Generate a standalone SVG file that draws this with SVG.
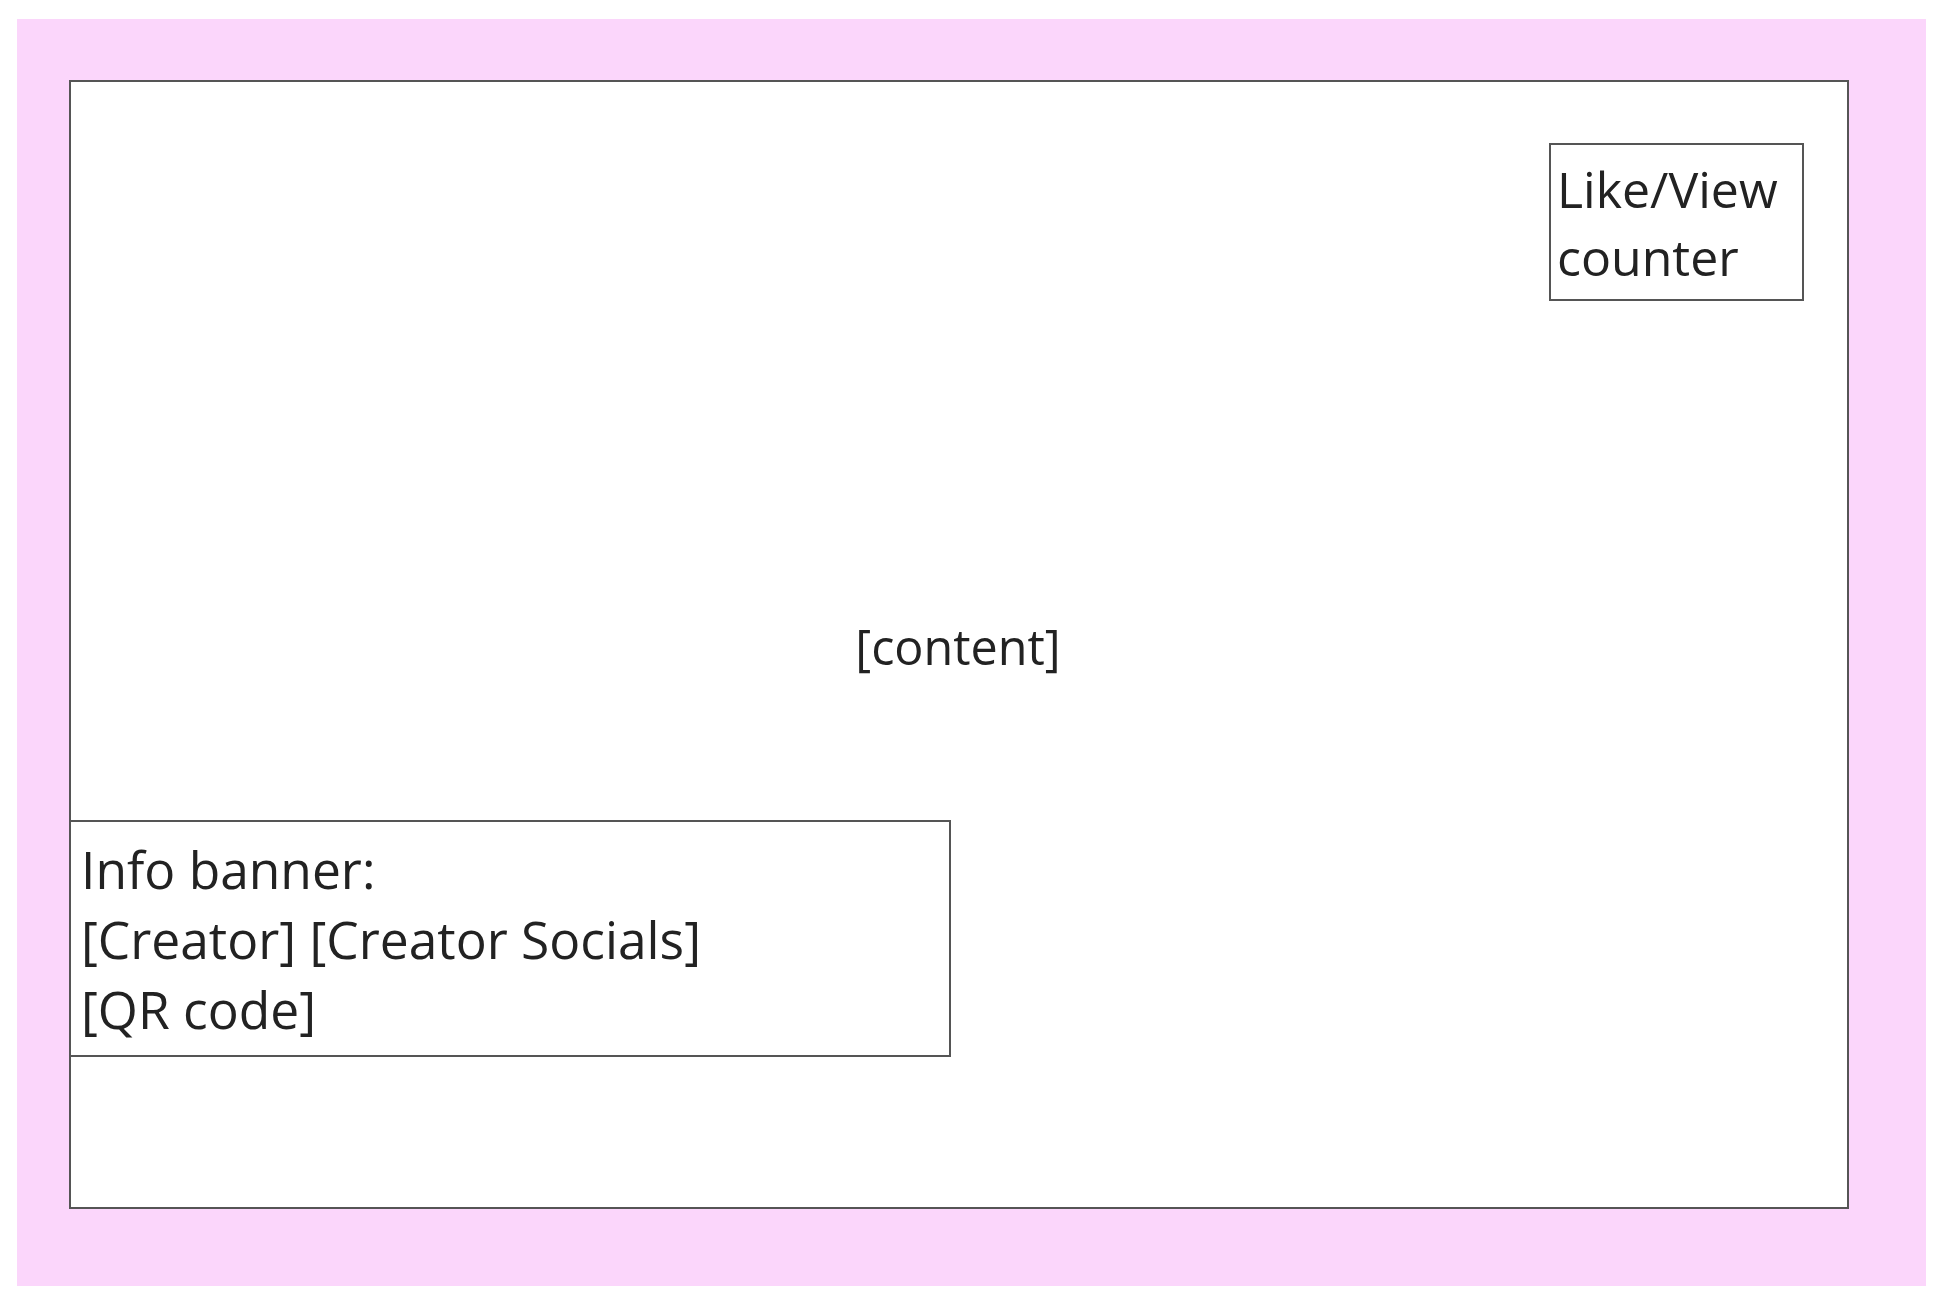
<svg xmlns="http://www.w3.org/2000/svg" width="1940" height="1304" viewBox="0 0 1940 1304">
<style>
.box{fill:#ffffff;stroke:#555555;stroke-width:2}
.t{font-family:"Open Sans","Noto Sans","Liberation Sans",sans-serif;font-size:50px;fill:#222222}
.b{font-size:51.5px}
.c{font-size:48.5px}
</style>
<rect x="0" y="0" width="1940" height="1304" fill="#ffffff"/>
<rect id="background" x="17" y="19" width="1909" height="1267" fill="#fbd6fb"/>
<g id="screen">
<rect class="box" x="70" y="81" width="1778" height="1127"/>
<text class="t c" x="958" y="665" text-anchor="middle">[content]</text>
</g>
<g id="counter">
<rect class="box" x="1550" y="144" width="253" height="156"/>
<text class="t" x="1557" y="208">Like/View</text>
<text class="t" x="1557" y="276">counter</text>
</g>
<g id="info-banner">
<rect class="box" x="70" y="821" width="880" height="235"/>
<text class="t b" x="81" y="889">Info banner:</text>
<text class="t b" x="81" y="959">[Creator] [Creator Socials]</text>
<text class="t b" x="81" y="1029">[QR code]</text>
</g>
<g id="connectors"></g>
</svg>
